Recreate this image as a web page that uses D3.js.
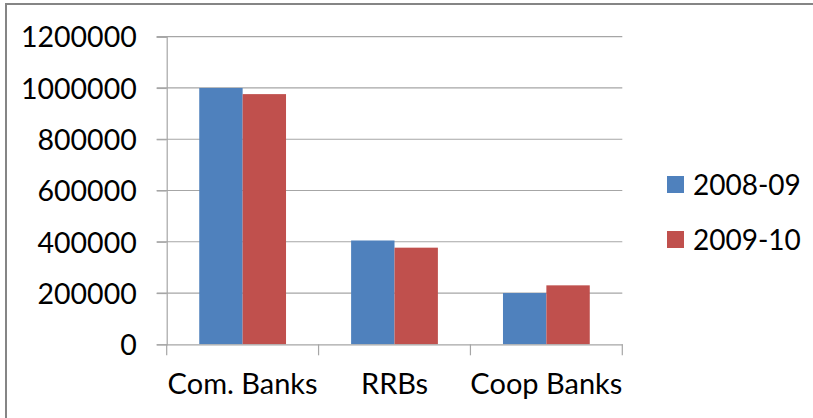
<!DOCTYPE html>
<html>
<head>
<meta charset="utf-8">
<script src="https://cdn.jsdelivr.net/npm/d3@7"></script>
<style>
  html, body { margin: 0; padding: 0; background: #fff; }
  svg { display: block; }
  text { font-family: Lato, "Open Sans", sans-serif; fill: #000; }
</style>
</head>
<body>
<svg id="chart" width="813" height="418"></svg>
<script>
// Outstanding amounts by bank type
const categories = ["Com. Banks", "RRBs", "Coop Banks"];
const seriesNames = ["2008-09", "2009-10"];
const values2008 = [1000000, 405000, 200000];
const values2009 = [976000, 377000, 230000];
const yTicks = [0, 200000, 400000, 600000, 800000, 1000000, 1200000];
const colors = ["#4F81BD", "#C0504D"];

const seriesValues = [values2008, values2009];
const svg = d3.select("#chart");

// frame around the chart
svg.append("path")
  .attr("d", "M6,418 V4 H813")
  .attr("fill", "none")
  .attr("stroke", "#858585")
  .attr("stroke-width", 2);

const plot = { left: 166.7, right: 622.3, top: 36.7, bottom: 344.3 };

const x = d3.scaleBand()
  .domain(categories)
  .range([plot.left, plot.right])
  .paddingInner(0)
  .paddingOuter(0);

const y = d3.scaleLinear()
  .domain([0, 1200000])
  .range([plot.bottom, plot.top]);

// bars take 2 of 3.5 units within each band (150% gap)
const x1 = d3.scaleBand()
  .domain(seriesNames)
  .range([0, x.bandwidth()])
  .paddingOuter(0.75)
  .paddingInner(0);

// gridlines
svg.append("g")
  .selectAll("line")
  .data(yTicks.filter(d => d > 0))
  .join("line")
  .attr("x1", plot.left - 10)
  .attr("x2", plot.right)
  .attr("y1", d => y(d))
  .attr("y2", d => y(d))
  .attr("stroke", "#a6a6a6")
  .attr("stroke-width", 1.2);

// bars
const groups = svg.append("g")
  .selectAll("g")
  .data(categories)
  .join("g")
  .attr("transform", d => `translate(${x(d)},0)`);

groups.selectAll("rect")
  .data((c, i) => seriesNames.map((s, j) => ({ s, j, v: seriesValues[j][i] })))
  .join("rect")
  .attr("x", d => x1(d.s))
  .attr("width", x1.bandwidth())
  .attr("y", d => y(d.v))
  .attr("height", d => y(0) - y(d.v))
  .attr("fill", d => colors[d.j]);

// y axis
const yAxis = svg.append("g")
  .attr("transform", `translate(${plot.left},0)`)
  .call(d3.axisLeft(y).tickValues(yTicks).tickSize(10).tickPadding(20).tickFormat(d3.format("d")));
yAxis.select(".domain").attr("stroke", "#a6a6a6").attr("stroke-width", 1.2);
yAxis.selectAll(".tick line").attr("stroke", "#a6a6a6").attr("stroke-width", 1.2);
yAxis.selectAll(".tick text")
  .attr("font-family", "Lato, 'Open Sans', sans-serif")
  .attr("font-size", 28.5)
  .attr("fill", "#000")
  .attr("dy", "0.36em");

// x axis
const xAxis = svg.append("g")
  .attr("transform", `translate(0,${plot.bottom})`)
  .call(d3.axisBottom(x).tickSize(0).tickPadding(0));
xAxis.select(".domain").attr("stroke", "#a6a6a6").attr("stroke-width", 1.2);
xAxis.selectAll(".tick text")
  .attr("font-family", "Lato, 'Open Sans', sans-serif")
  .attr("font-size", 29)
  .attr("fill", "#000")
  .attr("y", 50)
  .attr("dy", 0);

// category boundary ticks
const bounds = categories.map(c => x(c)).concat([x(categories[categories.length - 1]) + x.bandwidth()]);
xAxis.append("g")
  .selectAll("line")
  .data(bounds)
  .join("line")
  .attr("x1", d => d)
  .attr("x2", d => d)
  .attr("y1", 0)
  .attr("y2", 11)
  .attr("stroke", "#a6a6a6")
  .attr("stroke-width", 1.2);

// legend
const legend = svg.append("g")
  .selectAll("g")
  .data(seriesNames)
  .join("g")
  .attr("transform", (d, i) => `translate(667,${176 + i * 55})`);
legend.append("rect")
  .attr("width", 17)
  .attr("height", 17)
  .attr("fill", (d, i) => colors[i]);
legend.append("text")
  .attr("x", 26)
  .attr("y", 18.5)
  .attr("font-size", 28)
  .text(d => d);
</script>
</body>
</html>
